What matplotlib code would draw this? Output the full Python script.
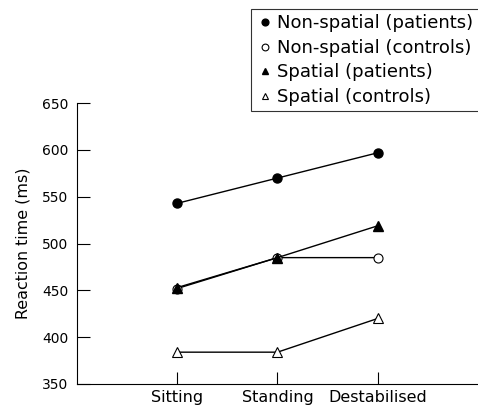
import numpy as np
import matplotlib
matplotlib.use("Agg")
import matplotlib.pyplot as plt

plt.rcParams['font.family'] = ['DejaVu Sans']

conditions = ["Sitting", "Standing", "Destabilised"]
nonspatial_patients = [543, 570, 597]
nonspatial_controls = [452, 485, 485]
spatial_patients = [453, 485, 519]
spatial_controls = [384, 384, 420]

x = np.arange(len(conditions))

fig = plt.figure(figsize=(4.78, 4.11), dpi=100)
ax = fig.add_axes([0.161, 0.0657, 0.839, 0.6833])

ms = 6.5
lw = 1.0
h_sc, = ax.plot(x, spatial_controls, color='black', lw=lw, marker='^', ms=ms,
                mfc='white', mec='black', mew=0.8, label='Spatial (controls)')
h_nc, = ax.plot(x, nonspatial_controls, color='black', lw=lw, marker='o', ms=ms,
                mfc='white', mec='black', mew=0.8, label='Non-spatial (controls)')
h_sp, = ax.plot(x, spatial_patients, color='black', lw=lw, marker='^', ms=ms,
                mfc='black', mec='black', label='Spatial (patients)')
h_np, = ax.plot(x, nonspatial_patients, color='black', lw=lw, marker='o', ms=ms,
                mfc='black', mec='black', label='Non-spatial (patients)')

ax.set_xlim(-1, 3)
ax.set_ylim(350, 650)
ax.set_yticks(np.arange(350, 651, 50))
ax.set_xticks(x)
ax.set_xticklabels(conditions)
ax.spines['top'].set_visible(False)
ax.spines['right'].set_visible(False)
for s in ['left', 'bottom']:
    ax.spines[s].set_linewidth(0.8)
ax.tick_params(direction='in', length=9, width=0.8)
ax.tick_params(axis='y', pad=6, labelsize=10)
ax.tick_params(axis='x', pad=4, labelsize=11.5)
ax.set_ylabel("Reaction time (ms)", fontsize=11.4, labelpad=8.5)

handles = [h_np, h_nc, h_sp, h_sc]
leg = fig.legend(handles=handles, labels=[h.get_label() for h in handles],
                 loc='upper left', bbox_to_anchor=(0.525, 0.978),
                 frameon=True, fancybox=False, edgecolor='black',
                 fontsize=13, markerscale=0.75, handlelength=1.0,
                 handletextpad=0.15, borderpad=0.3, labelspacing=0.36,
                 borderaxespad=0)
for line in leg.get_lines():
    line.set_linestyle('none')
leg.get_frame().set_linewidth(0.8)

fig.savefig("out.png", dpi=100)
